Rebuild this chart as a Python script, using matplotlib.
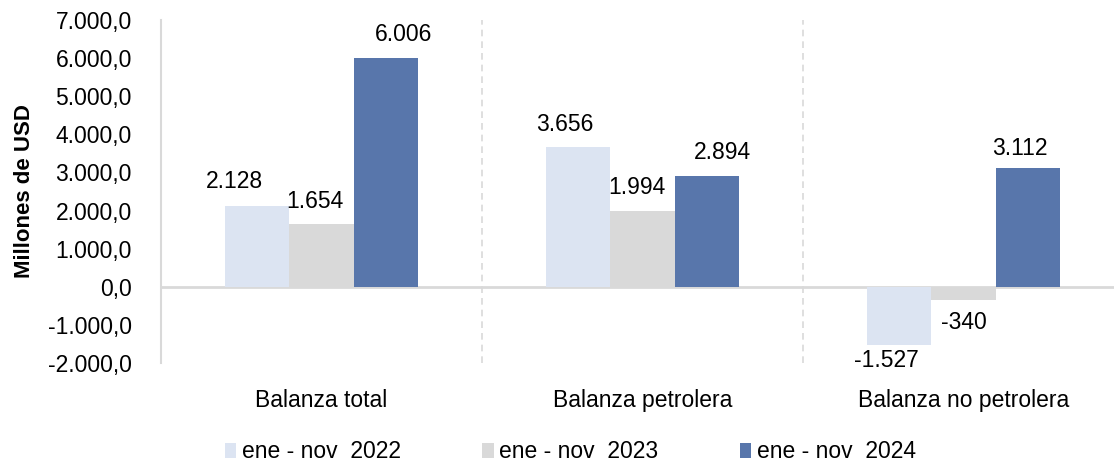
import numpy as np
import matplotlib
matplotlib.use('Agg')
import matplotlib.pyplot as plt
from matplotlib.ticker import FuncFormatter

plt.rcParams['font.family'] = ['Liberation Sans', 'DejaVu Sans']

# data
categories = ['Balanza total', 'Balanza petrolera', 'Balanza no petrolera']
series_names = ['ene - nov  2022', 'ene - nov  2023', 'ene - nov  2024']
values = {
    'ene - nov  2022': [2128, 3656, -1527],
    'ene - nov  2023': [1654, 1994, -340],
    'ene - nov  2024': [6006, 2894, 3112],
}
yticks = [-2000, -1000, 0, 1000, 2000, 3000, 4000, 5000, 6000, 7000]

colors = ['#DCE4F2', '#D9D9D9', '#5876AB']
# label nudges in pixels (dx, dy from bar end)
label_offsets = [
    [(-23, 24), (-14, 23), (-13, -16)],
    [(-7, 22), (-6, 23), (0, -23)],
    [(18, 23), (16, 24), (-8, 20)],
]
fs = 16.5

def fmt_int(v):
    return '{:,}'.format(v).replace(',', '.')

def fmt_tick(v, pos):
    s = '{:,.1f}'.format(v)
    return s.replace(',', 'X').replace('.', ',').replace('X', '.')

fig = plt.figure(figsize=(11.14, 4.63), dpi=100)
ax = fig.add_axes([161/1114., 1-363/463., (1124-161)/1114., (363-20)/463.])

x = np.arange(len(categories))
w = 0.2
for i, name in enumerate(series_names):
    xs = x + (i-1)*w
    ax.bar(xs, values[name], w, color=colors[i], label=name, zorder=2)
    for j, v in enumerate(values[name]):
        dx, dy = label_offsets[i][j]
        ax.annotate(fmt_int(v), (xs[j], v), xytext=(dx, dy), textcoords='offset pixels',
                    ha='center', va='center', fontsize=fs, color='black', zorder=3)

ax.set_xlim(-0.5, 2.5)
ax.set_ylim(-2000, 7000)
ax.set_yticks(yticks)
ax.yaxis.set_major_formatter(FuncFormatter(fmt_tick))
ax.set_xticks(x)
ax.set_xticklabels(categories)
ax.tick_params(axis='y', length=0, pad=21, labelsize=fs)
ax.tick_params(axis='x', length=0, pad=19, labelsize=fs)

for s in ['top', 'right', 'bottom']:
    ax.spines[s].set_visible(False)
ax.spines['left'].set_color('#D9D9D9')
ax.spines['left'].set_linewidth(1.5)
ax.axhline(0, color='#D9D9D9', lw=2, zorder=1)
for b in [0.5, 1.5]:
    ax.axvline(b, color='#D9D9D9', lw=1.2, ls=(0, (4, 3)), zorder=1)

ax.set_ylabel('Millones de USD', fontsize=16, fontweight='bold')
ax.yaxis.set_label_coords(-0.131, 0.5)

fig.legend(loc='center', bbox_to_anchor=(0.512, 1-452/463.), ncol=3, frameon=False,
           fontsize=fs, handlelength=0.5, handleheight=0.65, handletextpad=0.25,
           columnspacing=3.55)

fig.savefig('out.png', dpi=100)
